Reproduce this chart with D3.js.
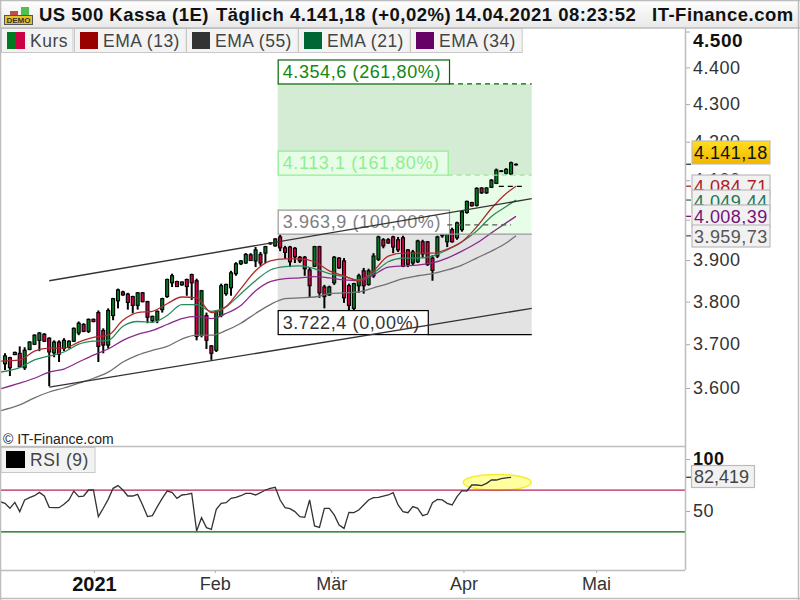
<!DOCTYPE html>
<html>
<head>
<meta charset="utf-8">
<script src="https://cdn.jsdelivr.net/npm/d3@7"></script>
<style>
  html, body { margin: 0; padding: 0; background: #fff; }
  text { font-family: "Liberation Sans", Arial, sans-serif; }
</style>
</head>
<body>
<div id="chart"></div>
<script>
// daily candles, Dec 2020 to 14 Apr 2021
const opens = [3655,3669,3676,3679,3646,3688,3700,3709,3723,3714,3680,3705,3690,3693,3707,3726,3746,3730,3758,3774,3732,3698,3767,3802,3823,3818,3812,3791,3821,3800,3755,3756,3781,3812,3845,3848,3840,3853,3865,3850,3721,3767,3696,3686,3767,3819,3833,3867,3891,3893,3913,3898,3914,3917,3940,3935,3957,3930,3932,3929,3907,3907,3876,3885,3933,3835,3816,3845,3905,3898,3838,3784,3838,3874,3841,3862,3902,3950,3950,3957,3950,3955,3925,3893,3896,3945,3945,3905,3910,3960,3945,3975,3955,3975,4018,4043,4036,4080,4068,4082,4092,4123,4118,4116,4140];
const highs = [3679,3671,3683,3695,3693,3707,3723,3728,3726,3716,3709,3709,3714,3709,3739,3753,3749,3760,3760,3779,3737,3784,3809,3831,3826,3821,3814,3823,3823,3802,3767,3779,3809,3855,3867,3850,3848,3855,3867,3855,3828,3774,3698,3779,3843,3843,3874,3895,3900,3917,3917,3932,3920,3935,3944,3954,3962,3935,3935,3932,3910,3910,3883,3935,3935,3840,3838,3910,3907,3905,3843,3845,3867,3881,3879,3917,3960,3954,3954,3960,3957,3960,3927,3925,3950,3950,3947,3912,3960,3990,3985,3980,3995,4023,4048,4045,4082,4082,4082,4103,4130,4126,4131,4148,4143];
const lows = [3641,3627,3675,3646,3641,3686,3698,3684,3705,3604,3670,3659,3684,3690,3705,3721,3728,3726,3751,3659,3679,3690,3756,3784,3814,3781,3772,3781,3798,3749,3751,3749,3774,3809,3835,3835,3838,3814,3804,3709,3716,3689,3664,3682,3763,3814,3814,3862,3888,3891,3898,3883,3886,3893,3938,3933,3922,3903,3883,3893,3893,3862,3811,3883,3809,3784,3814,3840,3879,3797,3779,3779,3821,3819,3838,3857,3898,3929,3940,3917,3920,3883,3883,3888,3893,3905,3886,3850,3905,3955,3932,3943,3950,3970,4015,4033,4033,4065,4065,4080,4090,4121,4115,4113,4138];
const closes = [3673,3646,3681,3648,3686,3705,3721,3726,3707,3682,3705,3677,3709,3707,3737,3749,3730,3758,3753,3695,3698,3779,3807,3828,3816,3798,3791,3821,3800,3763,3765,3777,3807,3853,3862,3836,3847,3836,3845,3718,3826,3709,3679,3777,3838,3841,3869,3891,3898,3914,3899,3925,3893,3933,3942,3952,3930,3919,3896,3908,3898,3879,3838,3933,3821,3812,3835,3907,3881,3809,3791,3843,3862,3838,3874,3910,3957,3935,3942,3932,3925,3885,3890,3920,3947,3915,3889,3875,3957,3985,3975,3945,3992,4020,4046,4035,4079,4068,4080,4100,4126,4124,4128,4145,4141.18];

// moving averages, read at these bar numbers
const emaDays = [-1,3,6,9,12,15,18,21,24,27,30,33,36,39,42,45,48,51,54,57,60,63,66,69,72,75,78,81,84,87,90,93,96,99,102,104];
const ema13 = [3661,3664,3684,3691,3691,3705,3716,3721,3756,3774,3777,3795,3811,3809,3774,3788,3831,3874,3898,3903,3903,3896,3874,3862,3850,3874,3910,3917,3917,3917,3927,3945,3982,4028,4066,4084.71];
const ema21 = [3636,3646,3664,3673,3682,3700,3707,3709,3742,3753,3751,3767,3793,3793,3777,3788,3819,3850,3876,3884,3886,3879,3867,3860,3852,3869,3896,3905,3905,3910,3925,3945,3972,4008,4033,4049.44];
const ema34 = [3598,3611,3622,3636,3643,3659,3675,3689,3709,3723,3732,3746,3760,3765,3760,3772,3791,3826,3848,3855,3857,3860,3857,3852,3850,3864,3883,3886,3888,3893,3905,3922,3942,3967,3992,4008.39];
const ema55 = [3549,3562,3578,3591,3600,3611,3622,3636,3659,3675,3686,3695,3712,3721,3721,3732,3749,3772,3793,3807,3809,3811,3819,3821,3823,3833,3843,3855,3862,3867,3876,3888,3905,3922,3942,3959.73];

// RSI (9), first value sits one bar before the first candle
const rsi = [59,57.4,52.6,58.3,49.4,60.6,62.8,64.7,67.9,64.4,53.5,53.2,53.2,56.4,60.6,69.2,63.8,64.4,70.2,70.2,44.6,52.6,61.2,71.8,74.4,70.2,64.4,64.4,66,55.8,44.6,45.5,54.2,62.2,69.2,67.9,62.2,65.4,66,67,30.8,43.6,34,32.4,51.6,57.4,58,62.2,63.1,64.7,67,67,65.4,67.6,70.2,71.8,72.8,60.6,53.2,52.2,49.4,44.6,43.9,60.6,35.6,34.3,52.6,52.6,46.2,36.5,33.3,48.7,48.4,51,55.8,60.6,62.8,63.1,64.4,65.4,67.6,55.8,49.4,48.4,54.2,52.6,45.5,47.1,58,61.2,60.6,57.4,55.8,63.8,69.6,69.2,75,75,74.4,76.6,79.8,79.8,81.1,81.9,82.419];

const priceTicks = [3600,3700,3800,3900,4000,4100,4200,4300,4400,4500];
const rsiTicks = [50,100];
const monthDays = [18.1,42.7,66.4,93.3,120.3];
const monthLabels = ["2021","Feb","Mär","Apr","Mai"];

const fibValues = [4354.6,4113.1,3963.9,3722.4];
const fibPercents = [261.8,161.8,100,0];
const fibBorders = ["#006600","#90ee90","#999999","#000000"];
const fibTexts = ["#118811","#90ee90","#808080","#333333"];

const legendNames = ["EMA (13)","EMA (55)","EMA (21)","EMA (34)"];
const legendColours = ["#990000","#333333","#006633","#660066"];

const width = 800, height = 600;
const plotRight = 685;

const svg = d3.select("#chart").append("svg")
  .attr("width", width)
  .attr("height", height)
  .style("display", "block");

const de = d3.formatLocale({decimal: ",", thousands: ".", grouping: [3], currency: ["", ""]});

const x = d3.scaleLinear().domain([0, 104]).range([5, 516]);
const y = d3.scaleLog().domain([3600, 4500]).range([388, 31.5]);
const yRsi = d3.scaleLinear().domain([50, 100]).range([511, 459]);

const defs = svg.append("defs");
defs.append("clipPath").attr("id", "mainClip").append("rect")
  .attr("x", 1).attr("y", 28).attr("width", plotRight - 1).attr("height", 418);
defs.append("clipPath").attr("id", "rsiClip").append("rect")
  .attr("x", 1).attr("y", 447).attr("width", plotRight - 1).attr("height", 123);

const headGrad = defs.append("linearGradient").attr("id", "headGrad").attr("x2", 0).attr("y2", 1);
headGrad.append("stop").attr("offset", 0).attr("stop-color", "#ffffff");
headGrad.append("stop").attr("offset", 1).attr("stop-color", "#e8e8e8");
const goldGrad = defs.append("linearGradient").attr("id", "goldGrad").attr("x2", 0).attr("y2", 1);
goldGrad.append("stop").attr("offset", 0).attr("stop-color", "#ffdf20");
goldGrad.append("stop").attr("offset", 1).attr("stop-color", "#f2b600");

// header
svg.append("rect").attr("width", width).attr("height", 28).attr("fill", "url(#headGrad)");
svg.append("rect").attr("x", 10).attr("y", 11).attr("width", 8).attr("height", 5).attr("fill", "#c05050");
svg.append("rect").attr("x", 21).attr("y", 7).attr("width", 8).attr("height", 9).attr("fill", "#50c050");
svg.append("rect").attr("x", 4.5).attr("y", 15.5).attr("width", 28).attr("height", 9)
  .attr("fill", "#e6c220").attr("stroke", "#555");
svg.append("text").attr("x", 18.5).attr("y", 23).attr("text-anchor", "middle")
  .style("font-size", "8px").style("font-weight", "bold").attr("fill", "#333").text("DEMO");
const titleParts = [[39, "US 500 Kassa (1E)"], [216, "Täglich 4.141,18 (+0,02%)"], [455, "14.04.2021 08:23:52"], [652, "IT-Finance.com"]];
titleParts.forEach(function(p) {
  svg.append("text").attr("x", p[0]).attr("y", 21)
    .style("font-size", "18.5px").style("letter-spacing", "0.5px")
    .style("font-weight", "bold").attr("fill", "#111").text(p[1]);
});

// main panel
const main = svg.append("g").attr("clip-path", "url(#mainClip)");

const zoneLeft = x(55.5), zoneRight = x(107.2);
main.append("rect").attr("x", zoneLeft).attr("width", zoneRight - zoneLeft)
  .attr("y", y(fibValues[0])).attr("height", y(fibValues[1]) - y(fibValues[0])).attr("fill", "#d4ebd4");
main.append("rect").attr("x", zoneLeft).attr("width", zoneRight - zoneLeft)
  .attr("y", y(fibValues[1])).attr("height", y(fibValues[2]) - y(fibValues[1])).attr("fill", "#e8fde8");
main.append("rect").attr("x", zoneLeft).attr("width", zoneRight - zoneLeft)
  .attr("y", y(fibValues[2])).attr("height", y(fibValues[3]) - y(fibValues[2])).attr("fill", "#e3e3e3");

// candles
const candles = main.append("g").selectAll("g")
  .data(opens.map(function(o, i) { return {i: i, o: o, h: highs[i], l: lows[i], c: closes[i]}; }))
  .join("g");
candles.append("line")
  .attr("x1", function(d) { return x(d.i); })
  .attr("x2", function(d) { return x(d.i); })
  .attr("y1", function(d) { return y(d.h); })
  .attr("y2", function(d) { return y(d.l); })
  .attr("stroke", "#000").attr("stroke-width", 2);
candles.append("rect")
  .attr("x", function(d) { return x(d.i) - 1.5; })
  .attr("width", 3)
  .attr("y", function(d) { return y(Math.max(d.o, d.c)); })
  .attr("height", function(d) { return Math.max(0.6, Math.abs(y(d.o) - y(d.c))); })
  .attr("fill", function(d) { return d.c >= d.o ? "#007a20" : "#cc0044"; })
  .attr("stroke", "#000").attr("stroke-width", 1.1);

// moving averages
const emaLine = d3.line()
  .x(function(d, i) { return x(emaDays[i]); })
  .y(function(d) { return y(d); })
  .curve(d3.curveMonotoneX);
[[ema55, "#707070"], [ema34, "#8a2a8a"], [ema21, "#2a8a5a"], [ema13, "#b02a2a"]].forEach(function(s) {
  main.append("path").datum(s[0]).attr("d", emaLine)
    .attr("fill", "none").attr("stroke", s[1]).attr("stroke-width", 1.3);
});

// fibonacci labels and their lines
fibValues.forEach(function(v, k) {
  const label = de.format(",.1f")(v) + " (" + de.format(",.2f")(fibPercents[k]) + "%)";
  const g = main.append("g");
  const box = g.append("rect").attr("x", zoneLeft + 0.5).attr("y", y(v) - 24)
    .attr("height", 24).attr("fill", "#fff").attr("stroke", fibBorders[k]).attr("stroke-width", 1.2);
  const t = g.append("text").attr("x", zoneLeft + 5).attr("y", y(v) - 6)
    .style("font-size", "18px").style("letter-spacing", "0.6px").attr("fill", fibTexts[k]).text(label);
  const w = t.node().getComputedTextLength() + 13;
  box.attr("width", w).attr("fill", k === 1 ? "#e8fde8" : "#fff");
  const solid = k >= 2;
  main.append("line").attr("x1", zoneLeft + w).attr("x2", zoneRight)
    .attr("y1", y(v)).attr("y2", y(v))
    .attr("stroke", fibBorders[k]).attr("stroke-width", 1.2)
    .attr("stroke-dasharray", solid ? null : "5,4");
});

// short dashed marks right of the last bars
const markValues = [4084, 3987];
const markFrom = [100.5, 90];
const markTo = [106, 103];
markValues.forEach(function(v, k) {
  main.append("line").attr("x1", x(markFrom[k])).attr("x2", x(markTo[k]))
    .attr("y1", y(v)).attr("y2", y(v))
    .attr("stroke", k === 0 ? "#000" : "#555").attr("stroke-width", 1.2).attr("stroke-dasharray", "5,4");
});

// trend channel
const channelDays = [9, 107.2];
const channelTop = [3850, 4053];
const channelBottom = [3602, 3784];
[channelTop, channelBottom].forEach(function(c) {
  main.append("line")
    .attr("x1", x(channelDays[0])).attr("y1", y(c[0]))
    .attr("x2", x(channelDays[1])).attr("y2", y(c[1]))
    .attr("stroke", "#333").attr("stroke-width", 1.4);
});

// legend row
let lx = 1.5;
const legendFont = "17.5px", legendGap = "0.5px";
const kursG = svg.append("g");
kursG.append("rect").attr("x", lx).attr("y", 28.5).attr("width", 71.5).attr("height", 24)
  .attr("fill", "#f3f3f3").attr("stroke", "#c8c8c8");
kursG.append("rect").attr("x", 7).attr("y", 32).attr("width", 9).attr("height", 17).attr("fill", "#007a20");
kursG.append("rect").attr("x", 16).attr("y", 32).attr("width", 9).attr("height", 17).attr("fill", "#cc0044");
kursG.append("text").attr("x", 30).attr("y", 46.5).style("font-size", legendFont).style("letter-spacing", legendGap).attr("fill", "#444").text("Kurs");
lx = 74;
legendNames.forEach(function(name, i) {
  const g = svg.append("g");
  const bw = 111.7;
  g.append("rect").attr("x", lx + 0.5).attr("y", 28.5).attr("width", bw).attr("height", 24)
    .attr("fill", "#f3f3f3").attr("stroke", "#c8c8c8");
  g.append("rect").attr("x", lx + 6).attr("y", 32).attr("width", 18).attr("height", 17).attr("fill", legendColours[i]);
  g.append("text").attr("x", lx + 29).attr("y", 46.5).style("font-size", legendFont).style("letter-spacing", legendGap).attr("fill", "#444").text(name);
  lx += bw + 0.3;
});

// price axis
const priceAxis = d3.axisRight(y).tickValues(priceTicks).tickSize(5).tickPadding(3)
  .tickFormat(function(d) { return de.format(",")(d); });
const priceG = svg.append("g").attr("transform", "translate(" + plotRight + ",0)").call(priceAxis);
priceG.select(".domain").remove();
priceG.selectAll(".tick line").attr("stroke", "#aaa");
priceG.selectAll(".tick text")
  .style("font-size", "18px").style("letter-spacing", "0.5px").attr("fill", "#333")
  .filter(function(d) { return d === 4500; })
  .style("font-weight", "bold").style("font-size", "19px").attr("y", 9).attr("fill", "#111");

// value boxes on the right
const lastValues = [closes[104], ema13[35], ema21[35], ema34[35], ema55[35]];
const lastColours = ["#111", "#aa2222", "#227755", "#771177", "#555"];
const lastTop = [141, 175, 190, 205, 225];
lastValues.forEach(function(v, i) {
  const top = lastTop[i], h = i === 0 ? 23 : 22;
  svg.append("line").attr("x1", plotRight).attr("x2", 691).attr("y1", y(v)).attr("y2", y(v))
    .attr("stroke", i === 0 ? "#333" : lastColours[i]).attr("stroke-width", 1.3);
  svg.append("rect").attr("x", 692).attr("y", top).attr("width", 78).attr("height", h)
    .attr("fill", i === 0 ? "url(#goldGrad)" : "#f1f1f1").attr("stroke", "#bbb").attr("stroke-width", 1.2);
  svg.append("text").attr("x", 694).attr("y", top + 17.5)
    .style("font-size", "18px").style("letter-spacing", "0.45px").attr("fill", lastColours[i]).text(de.format(",.2f")(v));
});

// RSI panel
const rsiG = svg.append("g").attr("clip-path", "url(#rsiClip)");
rsiG.append("ellipse").attr("cx", x(100.2)).attr("cy", yRsi(77.5)).attr("rx", 34).attr("ry", 8)
  .attr("fill", "#ffffa0").attr("stroke", "#f5ee30").attr("stroke-width", 1.5);
const rsiLines = [[70, "#bb2255"], [30, "#006600"]];
rsiLines.forEach(function(r) {
  rsiG.append("line").attr("x1", 0).attr("x2", plotRight).attr("y1", yRsi(r[0])).attr("y2", yRsi(r[0]))
    .attr("stroke", r[1]).attr("stroke-width", 1.3);
});
rsiG.append("path").datum(rsi)
  .attr("d", d3.line().x(function(d, i) { return x(i - 1); }).y(function(d) { return yRsi(d); }))
  .attr("fill", "none").attr("stroke", "#333").attr("stroke-width", 1.3);

const rsiAxis = d3.axisRight(yRsi).tickValues(rsiTicks).tickSize(5).tickPadding(3);
const rsiAxisG = svg.append("g").attr("transform", "translate(" + plotRight + ",0)").call(rsiAxis);
rsiAxisG.select(".domain").remove();
rsiAxisG.selectAll(".tick line").attr("stroke", "#aaa");
rsiAxisG.selectAll(".tick text").style("font-size", "18px").style("letter-spacing", "0.5px").attr("fill", "#333")
  .filter(function(d) { return d === 100; }).style("font-weight", "bold").attr("fill", "#111");

svg.append("line").attr("x1", plotRight).attr("x2", 691)
  .attr("y1", yRsi(82.419)).attr("y2", yRsi(82.419)).attr("stroke", "#333").attr("stroke-width", 1.3);
svg.append("rect").attr("x", 691.5).attr("y", 465.5).attr("width", 63).attr("height", 22)
  .attr("fill", "#f1f1f1").attr("stroke", "#bbb").attr("stroke-width", 1.2);
svg.append("text").attr("x", 694).attr("y", 483).style("font-size", "18px").attr("fill", "#444")
  .text(de.format(",.3f")(82.419));

svg.append("text").attr("x", 3).attr("y", 444).style("font-size", "14px").attr("fill", "#222").text("© IT-Finance.com");
svg.append("rect").attr("x", 1).attr("y", 447.5).attr("width", 94).attr("height", 25)
  .attr("fill", "#f3f3f3").attr("stroke", "#c8c8c8");
svg.append("rect").attr("x", 6).attr("y", 451).attr("width", 19).attr("height", 17).attr("fill", "#000");
svg.append("text").attr("x", 30).attr("y", 465.5).style("font-size", legendFont).style("letter-spacing", legendGap).attr("fill", "#444").text("RSI (9)");

// month axis
const monthAxis = d3.axisBottom(x).tickValues(monthDays).tickSize(3).tickPadding(4)
  .tickFormat(function(d, i) { return monthLabels[i]; });
const monthG = svg.append("g").attr("transform", "translate(0,570)").call(monthAxis);
monthG.select(".domain").remove();
monthG.selectAll(".tick line").attr("stroke", "#aaa");
monthG.selectAll(".tick text").style("font-size", "18px").attr("fill", "#333")
  .filter(function(d, i) { return i === 0; }).style("font-weight", "bold").style("font-size", "20px").attr("fill", "#111");

// frame lines
const frame = [[0,0.5,800,0.5],[0,28,plotRight,28],[685.5,28,685.5,570],[0,446.5,plotRight,446.5],[0,570.5,plotRight,570.5],[0,598.5,800,598.5],[0.5,0,0.5,600],[798.5,0,798.5,600],[plotRight,28,800,28]];
svg.append("g").selectAll("line").data(frame).join("line")
  .attr("x1", function(d) { return d[0]; }).attr("y1", function(d) { return d[1]; })
  .attr("x2", function(d) { return d[2]; }).attr("y2", function(d) { return d[3]; })
  .attr("stroke", "#bdbdbd").attr("stroke-width", 1.5);
</script>
</body>
</html>
